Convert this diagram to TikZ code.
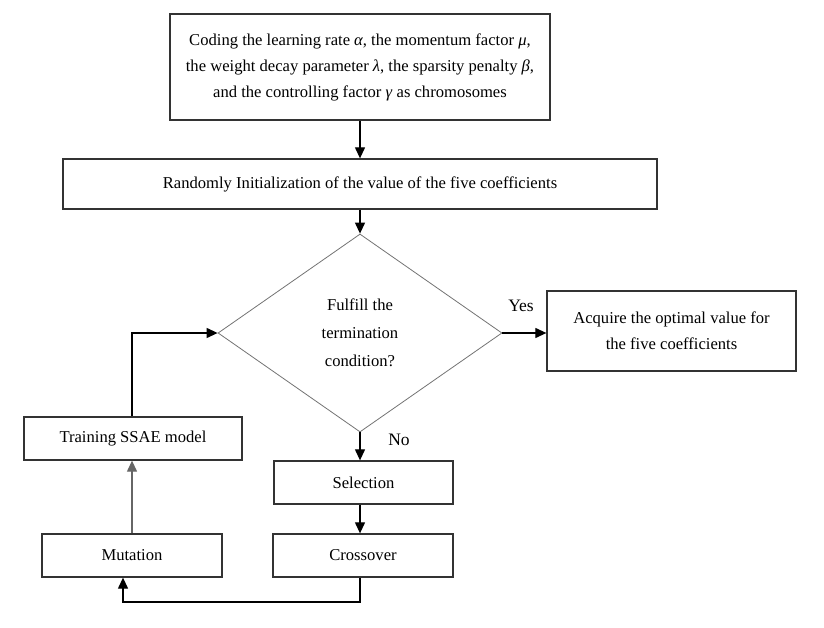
\documentclass[tikz,border=0pt]{standalone}
\usepackage{fontspec}
\setmainfont{Liberation Serif}
\usetikzlibrary{arrows.meta,shapes.geometric}
\begin{document}
\begin{tikzpicture}[x=1pt,y=-1pt,
  box/.style={draw=black!80,line width=1.3pt,rectangle,inner sep=0pt,align=center,
    font=\fontsize{16.6}{26}\selectfont},
  dia/.style={draw=black!55,line width=0.8pt,diamond,inner sep=0pt,align=center,
    minimum width=284pt,minimum height=198pt,font=\fontsize{16.6}{28}\selectfont},
  arr/.style={draw=black,line width=1.2pt,-{Triangle[length=11pt,width=10pt]}},
  lbl/.style={font=\fontsize{17.5}{20}\selectfont}]
\useasboundingbox (0,0) rectangle (824,628);
\node[box,minimum width=380pt,minimum height=106pt] (top) at (360,67)
  {Coding the learning rate \textit{α}, the momentum factor \textit{μ},\\
   the weight decay parameter \textit{λ}, the sparsity penalty \textit{β},\\
   and the controlling factor \textit{γ} as chromosomes};
\node[box,minimum width=594pt,minimum height=50pt] (init) at (360,184)
  {Randomly Initialization of the value of the five coefficients};
\node[dia] (cond) at (360,333) {Fulfill the\\termination\\condition?};
\node[box,minimum width=249pt,minimum height=80pt] (acq) at (671.5,331)
  {Acquire the optimal value for\\the five coefficients};
\node[box,minimum width=218pt,minimum height=43pt] (train) at (133,438.5) {Training SSAE model};
\node[box,minimum width=179pt,minimum height=43pt] (sel) at (363.5,482.5) {Selection};
\node[box,minimum width=180pt,minimum height=43pt] (mut) at (132,555.5) {Mutation};
\node[box,minimum width=180pt,minimum height=43pt] (cross) at (363,555.5) {Crossover};
\node[lbl] (yes) at (521,306) {Yes};
\node[lbl] (no) at (399,440) {No};
\coordinate (bl) at (360,602);
\coordinate (br) at (123,602);
\draw[arr] (top.south) -- (init.north);
\draw[arr] (init.south) -- (cond.north);
\draw[arr] (cond.east) -- (cond.east -| acq.west);
\draw[arr] (cond.south) -- (cond.south |- sel.north);
\draw[arr] (sel.south -| cond.south) -- (cross.north -| cond.south);
\draw[arr] (cross.south -| bl) -- (bl) -- (br) -- (br |- mut.south);
\draw[arr,draw=black!60] (mut.north) -- (train.south -| mut.north);
\draw[arr] (train.north -| 132,0) -- (132,333) -- (cond.west);
\end{tikzpicture}
\end{document}
